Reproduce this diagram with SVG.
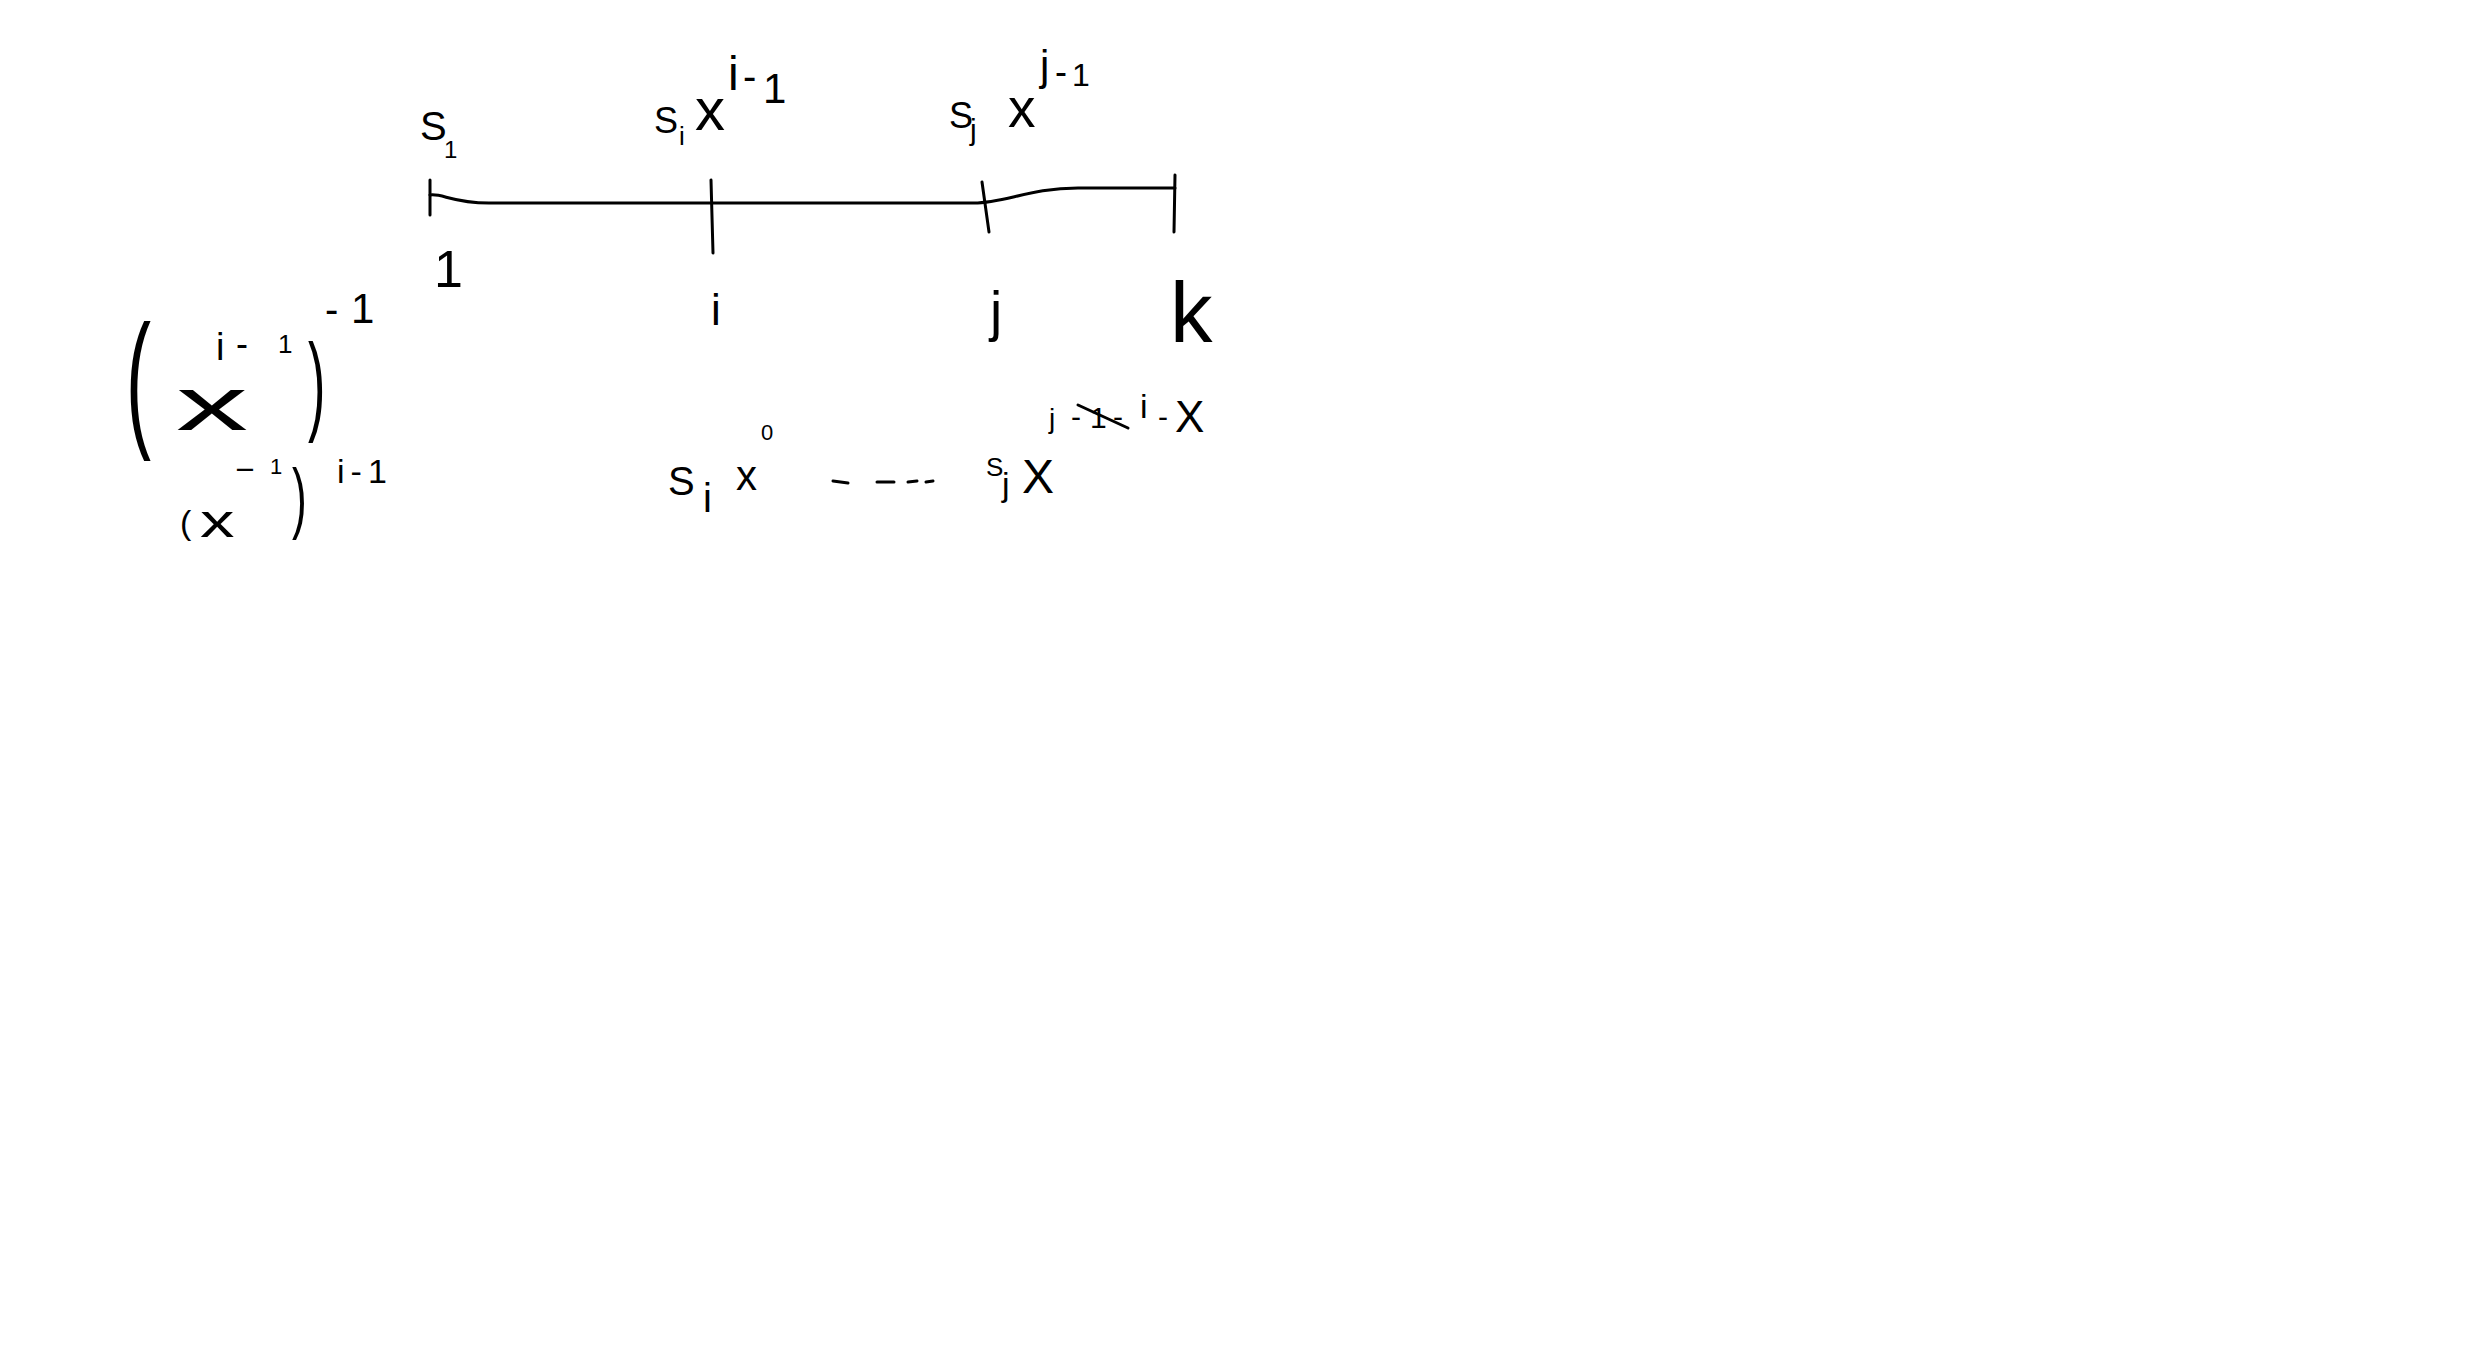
<svg xmlns="http://www.w3.org/2000/svg" width="2465" height="1371" viewBox="0 0 2465 1371">
<style>
.s{fill:none;stroke:#000;stroke-width:3;stroke-linecap:round;stroke-linejoin:round}
text{font-family:"Liberation Sans","DejaVu Sans",sans-serif;fill:#000}
</style>
<rect width="2465" height="1371" fill="#fff"/>
<g id="numberline">
<path class="s" d="M430,195 C442,193 452,203 489,203 L974,203 C1005,203 1030,188 1078,188 L1175,188"/>
<path class="s" d="M430,180 L430,215"/>
<path class="s" d="M711,180 L713,253"/>
<path class="s" d="M982,182 L989,232"/>
<path class="s" d="M1175,175 L1174,232"/>
</g>
<g id="label-s1">
<text x="420" y="140" font-size="40">S</text>
<text x="444" y="158" font-size="24">1</text>
</g>
<g id="label-si">
<text x="654" y="133" font-size="36">S</text>
<text x="679" y="145" font-size="26">i</text>
<text x="695" y="130" font-size="60">x</text>
<text x="728" y="90" font-size="48">i<tspan x="743" y="90" font-size="40">-</tspan><tspan x="763" y="103" font-size="42">1</tspan></text>
</g>
<g id="label-sj">
<text x="949" y="128" font-size="36">S</text>
<text x="970" y="140" font-size="30">j</text>
<text x="1008" y="127" font-size="55">x</text>
<text x="1040" y="80" font-size="42">j<tspan x="1055" y="84" font-size="36">-</tspan><tspan x="1072" y="86" font-size="32">1</tspan></text>
</g>
<g id="index-labels">
<text x="434" y="287" font-size="52">1</text>
<text x="711" y="325" font-size="44">i</text>
<text x="990" y="330" font-size="55">j</text>
<text x="1170" y="342" font-size="85">k</text>
</g>
<g id="formula-top">
<text transform="translate(126,430) scale(1.5,3)" font-size="50">(</text>
<text x="176" y="430" font-size="76"><tspan textLength="72" lengthAdjust="spacingAndGlyphs">x</tspan><tspan x="216" y="360" font-size="38">i</tspan><tspan x="236" y="356" font-size="36">-</tspan><tspan x="278" y="353" font-size="26">1</tspan></text>
<text transform="translate(308,420) scale(1.3,2.75)" font-size="40">)</text>
<text x="325" y="323" font-size="40">-</text>
<text x="351" y="323" font-size="42">1</text>
</g>
<g id="formula-bottom">
<text x="180" y="534" font-size="34">(</text>
<text transform="translate(200,537) scale(1.5,1)" font-size="46">x</text>
<text transform="translate(234,478) scale(2.2,1)" font-size="30">-</text>
<text x="270" y="474" font-size="22">1</text>
<text transform="translate(292,524) scale(1.3,2.3)" font-size="34">)</text>
<text x="337" y="483" font-size="34" letter-spacing="6">i-1</text>
</g>
<g id="term-si">
<text x="668" y="495" font-size="40">S</text>
<text x="703" y="512" font-size="40">i</text>
<text x="736" y="490" font-size="42">x</text>
<text x="761" y="440" font-size="22">0</text>
</g>
<g id="dots">
<path class="s" d="M833,481 L848,483 M877,482 L894,482 M908,482 L917,481 M926,482 L933,481"/>
</g>
<g id="term-sj">
<text x="986" y="476" font-size="26">S</text>
<text x="1002" y="496" font-size="34">j</text>
<text x="1022" y="493" font-size="48">X</text>
</g>
<g id="scratched">
<text x="1049" y="428" font-size="28">j</text>
<text x="1071" y="427" font-size="30">-</text>
<text x="1090" y="428" font-size="30">1</text>
<path class="s" d="M1078,405 L1128,428"/>
<text x="1113" y="427" font-size="30">-</text>
<text x="1140" y="418" font-size="34">i</text>
<text x="1158" y="427" font-size="30">-</text>
<text x="1175" y="432" font-size="44">X</text>
</g>
</svg>
